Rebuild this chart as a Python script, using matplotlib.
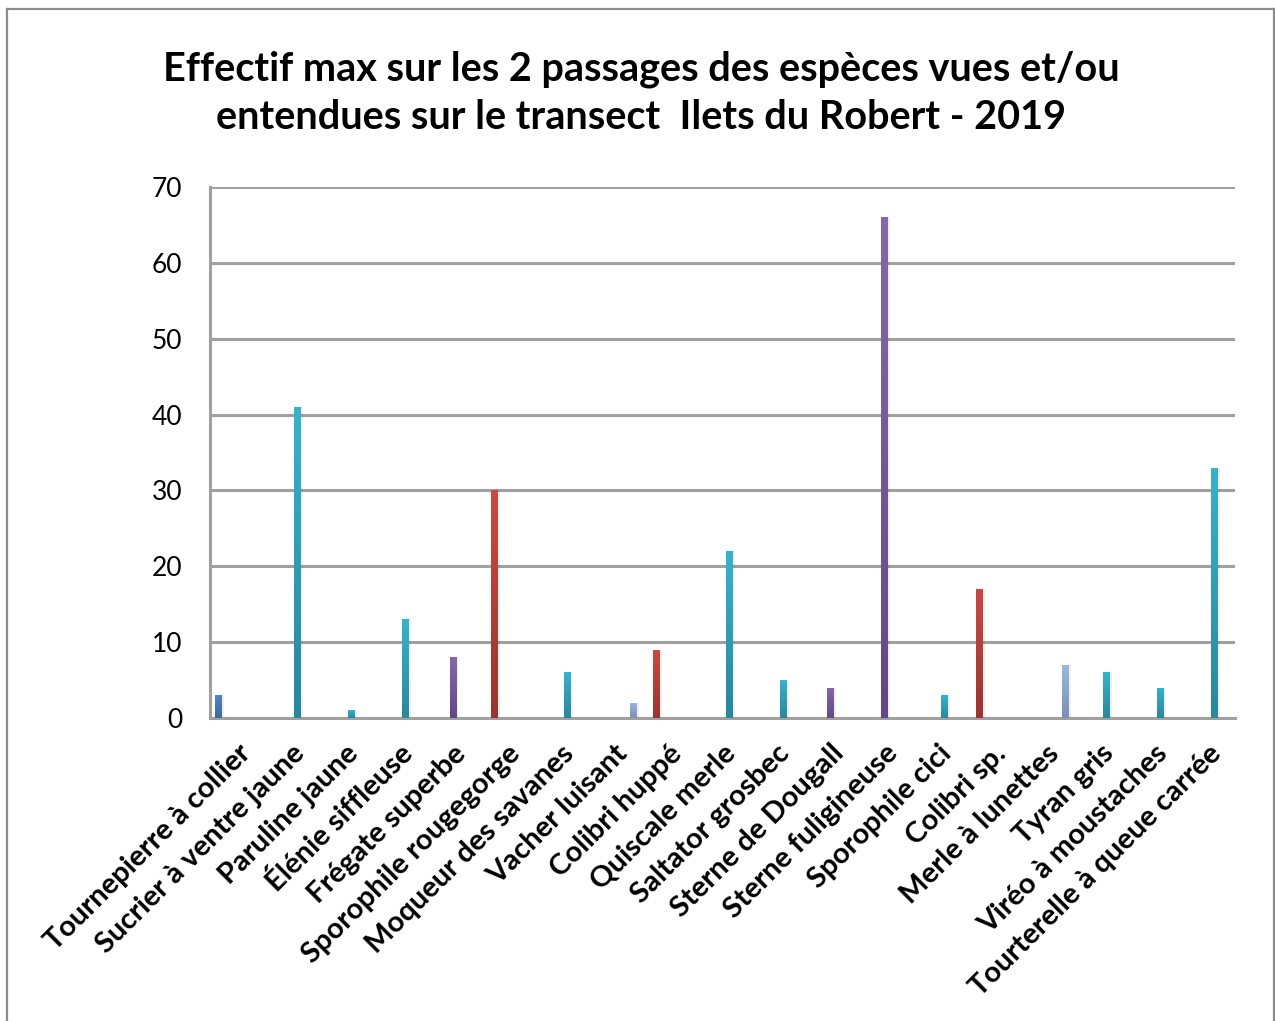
import matplotlib
matplotlib.use("Agg")
import matplotlib.pyplot as plt
import numpy as np
from matplotlib.colors import LinearSegmentedColormap
from matplotlib.lines import Line2D

species = [
    "Tournepierre à collier", "Sucrier à ventre jaune", "Paruline jaune",
    "Élénie siffleuse", "Frégate superbe", "Sporophile rougegorge",
    "Moqueur des savanes", "Vacher luisant", "Colibri huppé", "Quiscale merle",
    "Saltator grosbec", "Sterne de Dougall", "Sterne fuligineuse",
    "Sporophile cici", "Colibri sp.", "Merle à lunettes", "Tyran gris",
    "Viréo à moustaches", "Tourterelle à queue carrée",
]
effectif_max = [3, 41, 1, 13, 8, 30, 6, 2, 9, 22, 5, 4, 66, 3, 17, 7, 6, 4, 33]
# which Excel series (column) each species sits in
series_idx = [0, 4, 4, 4, 3, 1, 4, 6, 1, 4, 4, 3, 3, 4, 1, 6, 4, 4, 4]
y_ticks = [0, 10, 20, 30, 40, 50, 60, 70]

# (top colour, bottom colour) per series
series_colors = {
    0: ("#4f86c6", "#3a689f"),
    1: ("#c94a42", "#9b342f"),
    3: ("#8568a9", "#624985"),
    4: ("#37b2cd", "#2a879c"),
    6: ("#9cb7de", "#7a91b4"),
}
n_series = 7
gap = 1.5
bar_w = 1.0 / (n_series + gap)

plt.rcParams["font.family"] = ["Lato", "DejaVu Sans"]

fig = plt.figure(figsize=(12.75, 10.21), dpi=100)
ax = fig.add_axes([210 / 1275, 1 - 718 / 1021, 1025 / 1275, 531 / 1021])

x = np.arange(len(species))
offsets = (np.array(series_idx) - (n_series - 1) / 2) * bar_w
bars = ax.bar(x + offsets, effectif_max, width=bar_w, zorder=3, linewidth=0)

grad = np.linspace(0, 1, 64).reshape(-1, 1)
for rect, s in zip(bars, series_idx):
    top, bottom = series_colors[s]
    cmap = LinearSegmentedColormap.from_list("g", [bottom, top])
    x0, y0 = rect.get_x(), rect.get_y()
    w, h = rect.get_width(), rect.get_height()
    # soft shadow to the right
    ax.bar(x0 + w / 2 + bar_w * 0.35, h, width=w * 1.1, color="#000000",
           alpha=0.06, zorder=2, linewidth=0)
    im = ax.imshow(grad, cmap=cmap, origin="lower", aspect="auto",
                   extent=(x0, x0 + w, y0, y0 + h), zorder=3)
    im.set_clip_path(rect)
    rect.set_facecolor("none")

ax.set_xlim(-0.5, len(species) - 0.5)
ax.set_ylim(0, 70)
ax.set_yticks(y_ticks)
ax.set_xticks(x)
ax.set_xticklabels(species, rotation=45, ha="right", rotation_mode="anchor",
                   fontsize=21, fontweight="bold")
ax.tick_params(axis="y", length=0, pad=20, labelsize=19)
ax.tick_params(axis="x", length=0, pad=16)
ax.grid(axis="y", color="#a0a0a0", linewidth=2.2, zorder=1)
for side in ("top", "right"):
    ax.spines[side].set_visible(False)
for side in ("left", "bottom"):
    ax.spines[side].set_color("#a0a0a0")
    ax.spines[side].set_linewidth(2.2)

fig.text(0.503, 1 - 93 / 1021,
         "Effectif max sur les 2 passages des espèces vues et/ou\n"
         "entendues sur le transect  Ilets du Robert - 2019",
         ha="center", va="center", fontsize=28.5, fontweight="bold",
         linespacing=1.38)

# chart area border
bx0, bx1, by0 = 7 / 1275, 1274 / 1275, 1 - 9 / 1021
for xs, ys in (([bx0, bx0], [0, by0]), ([bx0, bx1], [by0, by0]), ([bx1, bx1], [by0, 0])):
    fig.add_artist(Line2D(xs, ys, color="#8c8c8c", linewidth=1.6))

fig.savefig("out.png", dpi=100)
